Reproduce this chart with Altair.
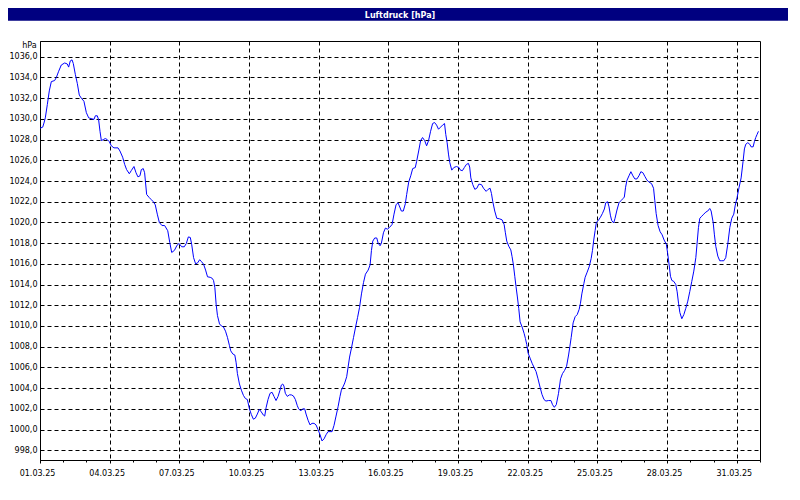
import altair as alt
import pandas as pd

# ---- data (hours since 01.03.25 00:00, pressure in hPa)
hours = [
    0, 2.8, 4.1, 5.5, 7.6, 9.6, 11.7, 15.1, 16.9, 19.3, 22.0, 25.5, 28.2, 29.6, 31.3, 33.1, 34.4,
    36.5, 38.6, 40.6, 42.7, 45.4, 47.9, 50.3, 53.7, 55.8, 57.2, 59.2, 60.6, 62.0, 63.4, 65.4,
    67.5, 69.5, 71.6, 73.7, 76.4, 78.5, 80.6, 82.6, 85.4, 87.5, 89.5, 92.3, 94.3, 97.1, 99.2,
    101.2, 103.3, 104.7, 106.7, 108.1, 110.2, 112.9, 115.0, 117.1, 119.1, 121.2, 123.3, 126.0,
    128.8, 132.0, 134.1, 136.1, 138.9, 141.6, 143.7, 146.4, 149.1, 151.2, 153.3, 155.3, 156.7,
    158.7, 160.8, 162.9, 165.0, 167.0, 169.0, 171.1, 173.1, 175.9, 178.0, 179.3, 180.7, 182.0,
    183.4, 185.5, 187.5, 189.6, 191.7, 193.7, 195.8, 197.1, 199.2, 201.3, 202.6, 204.0, 206.1,
    208.1, 210.2, 212.2, 214.3, 216.4, 218.4, 220.5, 222.5, 224.6, 226.6, 228.7, 230.8, 232.2,
    233.6, 235.6, 237.7, 239.8, 241.8, 243.9, 246.0, 248.0, 249.4, 250.8, 252.1, 253.5, 255.6,
    257.7, 259.7, 261.8, 263.9, 265.9, 267.3, 269.4, 271.4, 273.5, 274.9, 277.0, 279.0, 281.1,
    283.2, 285.2, 287.3, 289.4, 291.4, 293.5, 295.6, 297.6, 299.7, 301.8, 303.8, 305.9, 308.0,
    310.0, 311.4, 313.5, 314.9, 316.9, 319.9, 321.9, 324.0, 326.1, 328.1, 330.2, 332.2, 334.3,
    336.3, 339.1, 341.1, 342.5, 343.9, 345.9, 348.0, 349.4, 351.4, 352.8, 354.9, 356.9, 359.0,
    361.0, 363.8, 365.8, 367.9, 369.9, 371.3, 373.4, 375.4, 377.5, 378.9, 381.0, 383.1, 385.1,
    387.8, 389.2, 391.3, 393.3, 395.3, 397.5, 399.5, 401.5, 403.6, 405.7, 407.7, 409.8, 411.8,
    413.9, 416.0, 418.0, 419.3, 420.7, 422.1, 423.4, 425.5, 427.6, 430.3, 433.0, 434.4, 436.5,
    438.5, 440.6, 442.7, 444.0, 445.2, 447.2, 449.3, 451.4, 453.5, 456.2, 458.3, 461.0, 463.1,
    465.1, 466.5, 467.9, 469.9, 472.0, 474.8, 477.5, 479.6, 480.9, 482.3, 484.4, 486.5, 487.8,
    489.2, 490.6, 491.9, 493.3, 494.7, 496.1, 498.2, 500.2, 501.6, 503.0, 504.3, 506.4, 508.5,
    510.5, 512.6, 514.6, 516.7, 518.7, 520.8, 522.8, 525.3, 528.0, 529.6, 531.5, 533.5, 535.8,
    537.9, 539.9, 542.0, 544.1, 546.2, 547.5, 548.9, 550.9, 553.0, 555.1, 557.1, 558.5, 559.9,
    562.0, 563.3, 565.4, 567.4, 569.5, 570.9, 572.2, 573.6, 574.9, 577.0, 579.1, 581.1, 583.2,
    584.6, 586.6, 588.0, 589.4, 590.7, 592.8, 594.2, 596.2, 598.3, 600.3, 602.4, 603.8, 605.1,
    606.5, 608.6, 610.6, 612.7, 614.7, 616.8, 618.9, 620.9, 623.0, 625.0, 627.1, 629.2, 631.9,
    634.0, 635.3, 636.7, 638.7, 640.8, 642.9, 644.9, 647.2, 648.6, 650.1, 651.5, 652.9, 655.0,
    657.0, 658.4, 659.8, 661.2, 663.2, 665.3, 667.3, 669.4, 671.5, 673.5, 675.6, 677.7, 679.0,
    680.4, 681.8, 683.8, 685.9, 688.0, 690.0, 692.1, 693.5, 695.6, 696.9, 698.3, 700.4, 702.4,
    704.5, 706.6, 708.6, 710.7, 712.8, 714.8, 716.9, 718.3, 720.3, 722.4, 724.5, 726.5, 727.9,
    729.3, 731.4, 733.4, 734.8, 736.9, 738.2, 739.6, 741.0, 742.4,
]
hpa = [
    1029.1, 1029.2, 1029.6, 1030.1, 1031.4, 1032.7, 1033.6, 1033.7, 1034.0, 1034.6, 1035.2, 1035.4, 1035.3, 1035.0, 1035.6, 1035.7, 1035.35,
    1034.3, 1033.4, 1032.3, 1032.0, 1031.7, 1030.6, 1030.1, 1030.0, 1029.95, 1030.3, 1030.3, 1029.9, 1028.8, 1027.9, 1028.0,
    1028.1, 1028.0, 1027.8, 1027.4, 1027.2, 1027.2, 1027.2, 1026.9, 1026.3, 1025.6, 1025.1, 1024.7, 1025.0, 1025.4, 1024.8,
    1024.4, 1024.5, 1025.1, 1025.2, 1024.8, 1022.7, 1022.4, 1022.2, 1022.0, 1021.7, 1020.8, 1020.0, 1019.7,
    1019.7, 1019.2, 1018.06, 1017.1, 1017.3, 1017.8, 1017.97, 1017.65, 1017.65, 1017.97, 1018.6, 1018.55, 1017.9,
    1016.6, 1016.0, 1016.1, 1016.4, 1016.2, 1015.97, 1015.4, 1014.75, 1014.7, 1014.6, 1014.4, 1013.7, 1012.1,
    1011.0, 1010.2, 1010.0, 1009.9, 1009.5, 1008.9, 1008.1, 1007.6, 1007.3, 1007.2, 1006.5, 1005.4, 1004.4,
    1003.8, 1003.3, 1003.0, 1002.9, 1002.0, 1001.45, 1001.0, 1001.1, 1001.5, 1001.95, 1001.7, 1001.4, 1001.3,
    1002.1, 1002.9, 1003.5, 1003.6, 1003.2, 1002.8, 1003.2, 1003.8, 1004.3, 1004.4, 1004.2, 1003.5, 1003.2,
    1003.35, 1003.35, 1003.25, 1002.9, 1002.3, 1002.0, 1001.8, 1002.0, 1002.0, 1001.5, 1000.9, 1000.45, 1000.6,
    1000.6, 1000.45, 1000.0, 999.5, 998.9, 999.1, 999.5, 999.8, 999.8, 999.8, 1000.4, 1001.3, 1002.2,
    1003.2, 1003.8, 1004.2, 1004.5, 1005.1, 1007.0, 1007.9, 1008.9, 1009.9, 1010.8, 1011.8, 1013.1, 1014.2,
    1015.0, 1015.4, 1015.9, 1017.3, 1018.2, 1018.5, 1018.5, 1018.0, 1017.75, 1018.0, 1019.0, 1019.45, 1019.35,
    1019.5, 1019.8, 1020.8, 1021.7, 1021.9, 1021.6, 1021.1, 1021.1, 1021.8, 1022.7, 1023.9, 1024.5, 1025.2,
    1025.3, 1025.9, 1026.9, 1027.9, 1028.2, 1027.9, 1027.4, 1027.9, 1028.8, 1029.55, 1029.65, 1029.4, 1029.0,
    1029.2, 1029.4, 1029.55, 1028.5, 1027.7, 1026.6, 1025.8, 1025.05, 1025.3, 1025.4, 1025.3, 1025.05, 1025.0,
    1025.3, 1025.6, 1025.7, 1025.35, 1024.3, 1023.65, 1023.2, 1023.3, 1023.7, 1023.65, 1023.3, 1023.0, 1023.2,
    1023.3, 1022.8, 1022.0, 1021.1, 1020.4, 1020.35, 1020.25, 1019.8, 1019.0, 1018.2, 1017.7, 1017.35, 1016.7,
    1015.9, 1014.8, 1013.8, 1012.8, 1011.7, 1010.4, 1009.9, 1009.3, 1008.8, 1008.2, 1007.4, 1006.9, 1006.4,
    1006.0, 1005.6, 1004.9, 1004.1, 1003.4, 1002.9, 1002.75, 1002.8, 1002.8, 1002.4, 1002.15, 1002.4, 1003.5,
    1004.9, 1005.4, 1005.7, 1006.1, 1007.2, 1008.0, 1008.9, 1010.3, 1010.9, 1011.1, 1011.6, 1012.2, 1013.1,
    1014.1, 1014.7, 1015.2, 1015.7, 1016.5, 1017.3, 1018.3, 1019.2, 1020.0, 1020.2, 1020.5, 1020.85, 1021.3,
    1021.9, 1022.0, 1021.5, 1020.7, 1020.2, 1019.95, 1020.4, 1021.2, 1021.9, 1022.1, 1022.3, 1022.45, 1023.4,
    1024.06, 1024.5, 1024.9, 1024.5, 1024.2, 1024.2, 1024.5, 1024.9, 1024.8, 1024.45, 1024.1, 1023.9, 1023.75,
    1023.3, 1022.1, 1020.85, 1019.7, 1019.1, 1018.8, 1018.3, 1017.9, 1017.0, 1015.9, 1014.8, 1014.4, 1014.3,
    1014.0, 1013.3, 1012.2, 1011.3, 1010.7, 1011.1, 1011.7, 1012.4, 1013.35, 1014.3, 1015.3, 1016.6, 1018.0,
    1019.5, 1020.4, 1020.6, 1020.8, 1021.0, 1021.1, 1021.35, 1021.1, 1020.0, 1018.8, 1017.7, 1016.75, 1016.3,
    1016.3, 1016.3, 1016.6, 1017.9, 1019.5, 1020.4, 1020.8, 1021.6, 1022.4, 1023.4, 1024.3, 1025.9, 1027.1,
    1027.55, 1027.7, 1027.55, 1027.3, 1027.3, 1027.8, 1028.2, 1028.5, 1028.8,
]

y_tick_values = list(range(998, 1037, 2))
x_tick_labels = ["01.03.25", "04.03.25", "07.03.25", "10.03.25", "13.03.25", "16.03.25",
                 "19.03.25", "22.03.25", "25.03.25", "28.03.25", "31.03.25"]
title_text = "Luftdruck [hPa]"
unit_text = "hPa"

# ---- layout / style
W, H = 720, 419
PAD = {"left": 32, "top": 33, "right": 28, "bottom": 28}
FONT = "DejaVu Sans"
NAVY = "#000080"

day_ticks = list(range(0, 745, 24))
label_array = "[" + ",".join("'" + s + "'" for s in x_tick_labels) + "]"
major_test = "datum.value % 72 === 0"

df = pd.DataFrame({"h": hours, "p": hpa})

x_axis = alt.Axis(
    values=day_ticks,
    labelExpr=f"{major_test} ? {label_array}[round(datum.value / 72)] : ''",
    tickSize={"condition": {"test": major_test, "value": 3}, "value": 2},
    tickColor="black", tickWidth=1,
    grid=True, gridColor="black", gridDash=[4, 3], gridWidth=1,
    gridOpacity={"condition": {"test": major_test + " && datum.value > 0", "value": 1}, "value": 0},
    domainColor="black", domainWidth=1,
    labelFont=FONT, labelFontSize=8, labelColor="black",
    labelPadding=6, labelOffset=-3, labelFlush=False, labelOverlap=False,
    title=None,
)
y_axis = alt.Axis(
    values=y_tick_values,
    labelExpr="replace(format(datum.value, '.1f'), '.', ',')",
    ticks=False, tickSize=0,
    grid=True, gridColor="black", gridDash=[4, 3], gridWidth=1,
    domainColor="black", domainWidth=1,
    labelFont=FONT, labelFontSize=8, labelColor="black", labelPadding=3,
    labelOverlap=False,
    title=None,
)

line = alt.Chart(df).mark_line(color="#0000FF", strokeWidth=1).encode(
    x=alt.X("h:Q", scale=alt.Scale(domain=[0, 744], nice=False, zero=False), axis=x_axis),
    y=alt.Y("p:Q", scale=alt.Scale(domain=[997.06, 1037.52], nice=False, zero=False), axis=y_axis),
)

title_df = pd.DataFrame({"t": [title_text]})
bar = alt.Chart(title_df).mark_rect(color=NAVY).encode(
    x=alt.value(-PAD["left"]), x2=alt.value(W + PAD["right"]),
    y=alt.value(-PAD["top"]), y2=alt.value(-20.3),
)
title = alt.Chart(title_df).mark_text(
    font=FONT, fontSize=8, fontWeight="bold", color="white", align="center", baseline="alphabetic"
).encode(x=alt.value(360), y=alt.value(-23.5), text="t:N")

unit = alt.Chart(pd.DataFrame({"u": [unit_text]})).mark_text(
    font=FONT, fontSize=8, color="black", align="right", baseline="alphabetic"
).encode(x=alt.value(-3.3), y=alt.value(7.3), text="u:N")

chart = alt.layer(bar, title, unit, line).properties(
    width=W, height=H, padding=PAD, autosize="none", background="white"
).configure_view(stroke="black", strokeWidth=1)

chart.save("out.html", embed_options={"renderer": "svg", "actions": False})
